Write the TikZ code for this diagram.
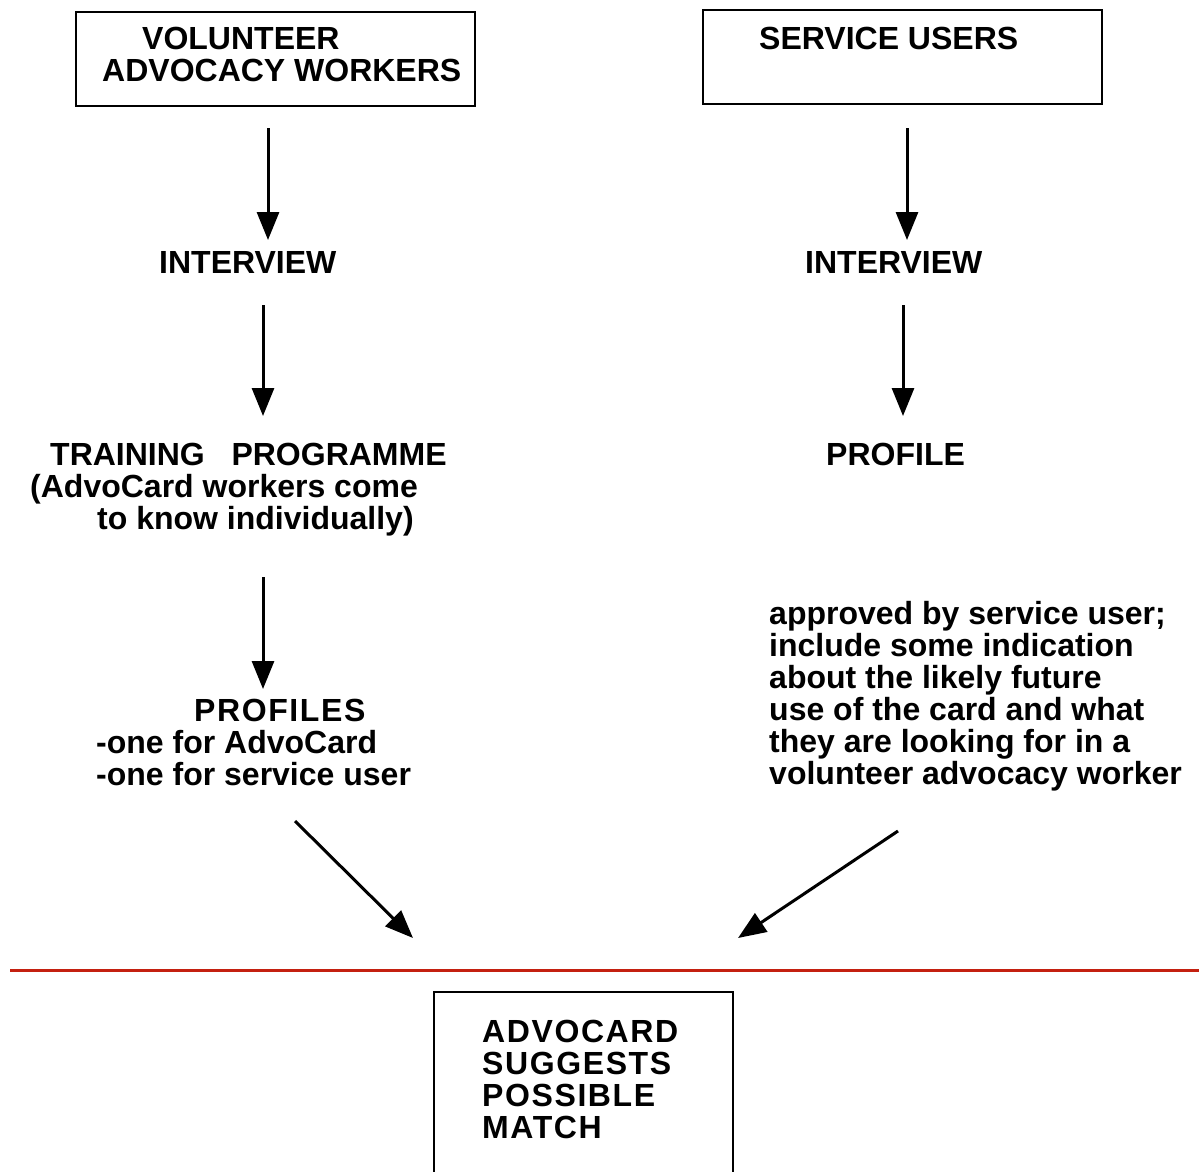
\documentclass[tikz,border=0pt]{standalone}
\usepackage{fontspec}
\setmainfont{Liberation Sans}
\newfontfamily\spacedfont[LetterSpace=5]{Liberation Sans}
\usetikzlibrary{arrows.meta}
\definecolor{rulered}{RGB}{196,32,16}
\begin{document}
\begin{tikzpicture}[x=1pt,y=-1pt,
  txt/.style={anchor=base west,inner sep=0pt,font=\fontsize{32}{32}\selectfont\bfseries},
  stxt/.style={anchor=base west,inner sep=0pt,font=\spacedfont\fontsize{32}{32}\selectfont\bfseries},
  boxed/.style={draw,line width=2.2pt,inner sep=0pt},
  arr/.style={line width=3pt,-{Triangle[length=28pt,width=22pt]}}]
\useasboundingbox (0,0) rectangle (1199,1171);
% top boxes
\node[boxed,minimum width=399pt,minimum height=94pt] (vbox) at (275.5,59.3) {};
\node[boxed,minimum width=399pt,minimum height=94pt] (sbox) at (902.2,56.7) {};
\node[txt] (v1) at (142,49) {VOLUNTEER};
\node[txt] (v2) at (102,81) {ADVOCACY WORKERS};
\node[txt] (s1) at (759,49) {SERVICE USERS};
% left column
\node[txt] (li) at (159,273) {INTERVIEW};
\node[txt] (t1) at (50,465) {TRAINING\ \ \ PROGRAMME};
\node[txt] (t2) at (30,497) {(AdvoCard workers come};
\node[txt] (t3) at (97,529) {to know individually)};
\node[stxt] (p1) at (194,721) {PROFILES};
\node[txt] (p2) at (96,753) {-one for AdvoCard};
\node[txt] (p3) at (96,785) {-one for service user};
% right column
\node[txt] (ri) at (805,273) {INTERVIEW};
\node[txt] (rp) at (826,465) {PROFILE};
\node[txt] (a1) at (769,624) {approved by service user;};
\node[txt] (a2) at (769,656) {include some indication};
\node[txt] (a3) at (769,688) {about the likely future};
\node[txt] (a4) at (769,720) {use of the card and what};
\node[txt] (a5) at (769,752) {they are looking for in a};
\node[txt] (a6) at (769,784) {volunteer advocacy worker};
% arrow coordinates
\coordinate (la1s) at (268,128); \coordinate (la1e) at (268,240);
\coordinate (la2s) at (263,305); \coordinate (la2e) at (263,416);
\coordinate (la3s) at (263,577); \coordinate (la3e) at (263,689);
\coordinate (ra1s) at (907,128); \coordinate (ra1e) at (907,240);
\coordinate (ra2s) at (903,305); \coordinate (ra2e) at (903,416);
\coordinate (lds) at (295,821); \coordinate (lde) at (413,938);
\coordinate (rds) at (898,831); \coordinate (rde) at (738,938);
\draw[arr] (la1s) -- (la1e);
\draw[arr] (la2s) -- (la2e);
\draw[arr] (la3s) -- (la3e);
\draw[arr] (ra1s) -- (ra1e);
\draw[arr] (ra2s) -- (ra2e);
\draw[arr] (lds) -- (lde);
\draw[arr] (rds) -- (rde);
% red rule
\coordinate (rl) at (10,970); \coordinate (rr) at (1199,970);
\draw[rulered,line width=3pt] (rl) -- (rr);
% bottom box
\draw[line width=2.2pt] (434,1180) -- (434,992) -- (733,992) -- (733,1180);
\node[stxt] (m1) at (482,1042) {ADVOCARD};
\node[stxt] (m2) at (482,1074) {SUGGESTS};
\node[stxt] (m3) at (482,1106) {POSSIBLE};
\node[stxt] (m4) at (482,1138) {MATCH};
\end{tikzpicture}
\end{document}
